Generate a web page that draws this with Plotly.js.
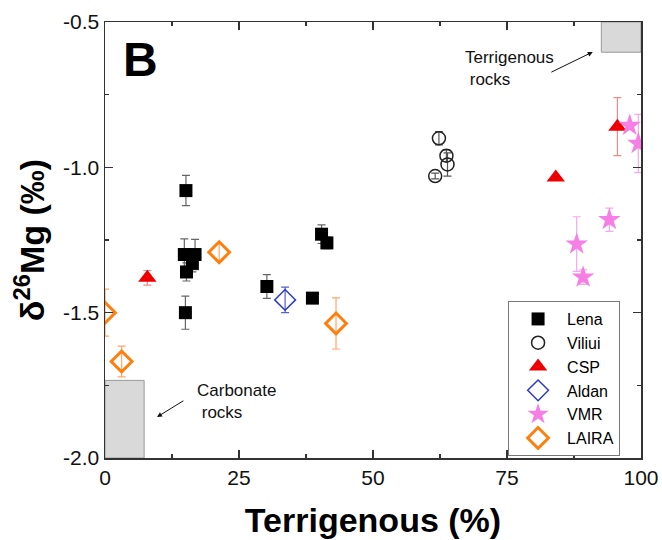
<!DOCTYPE html>
<html>
<head>
<meta charset="utf-8">
<script src="https://cdn.plot.ly/plotly-3.0.1.min.js"></script>
<style>
  html, body { margin: 0; padding: 0; background: #fff; }
  #chart { width: 662px; height: 540px; }
</style>
</head>
<body>
<div id="chart"></div>
<script>
// δ26Mg against terrigenous fraction, by river / sample group
const lenaX = [15.1, 14.8, 16.8, 16.3, 15.2, 15.0, 30.2, 38.7, 40.4, 41.4];
const lenaY = [-1.08, -1.30, -1.30, -1.33, -1.36, -1.50, -1.41, -1.45, -1.23, -1.26];
const lenaErr = [0.052, 0.054, 0.052, 0.03, 0.031, 0.057, 0.041, 0, 0.032, 0.02];

const viliuiX = [62.3, 63.7, 63.9, 61.6];
const viliuiY = [-0.90, -0.96, -0.99, -1.03];
const viliuiErr = [0.023, 0.02, 0.04, 0.01];

const cspX = [7.9, 84.1, 95.6];
const cspY = [-1.38, -1.035, -0.86];
const cspErr = [0.025, 0, 0.10];

const aldanX = [33.6];
const aldanY = [-1.456];
const aldanErr = [0.044];

const vmrX = [97.9, 99.5, 94.1, 88.0, 89.2];
const vmrY = [-0.856, -0.918, -1.18, -1.264, -1.378];
const vmrErr = [0, 0.10, 0.04, 0.094, 0.025];

const lairaX = [0, 3.1, 21.3, 43.1];
const lairaY = [-1.50, -1.668, -1.292, -1.537];
const lairaErr = [0.081, 0.053, 0.029, 0.088];

// axis tick labels (plain hyphen minus)
const xTickVals = [0, 25, 50, 75, 100];
const xTickText = ['0', '25', '50', '75', '100'];
const yTickVals = [-2.0, -1.5, -1.0, -0.5];
const yTickText = ['-2.0', '-1.5', '-1.0', '-0.5'];

// end-member fields
const carbonateBox = {x0: 0, x1: 7.3, y0: -2.0, y1: -1.733};
const terrigenousBox = {x0: 92.6, x1: 100, y0: -0.604, y1: -0.5};

const FONT = 'Arial, "Liberation Sans", sans-serif';

function series(name, xs, ys, errs, marker, errColor) {
  return {
    type: 'scatter', mode: 'markers', name: name,
    x: xs, y: ys,
    error_y: {type: 'data', array: errs, visible: true, color: errColor, thickness: 1.2, width: 4},
    marker: marker,
    cliponaxis: true
  };
}

const traces = [
  series('Lena', lenaX, lenaY, lenaErr,
    {symbol: 'square', size: 13, color: '#000000', line: {width: 0}}, '#666666'),
  series('Viliui', viliuiX, viliuiY, viliuiErr,
    {symbol: 'circle-open', size: 13, color: '#222222', line: {width: 1.5}}, '#555555'),
  series('CSP', cspX, cspY, cspErr,
    {symbol: 'triangle-up', size: 16, color: '#ee0000', line: {width: 0}}, '#f08a8a'),
  series('Aldan', aldanX, aldanY, aldanErr,
    {symbol: 'diamond-open', size: 16, color: '#2b3cc4', line: {width: 1.5}}, '#5060cc'),
  series('VMR', vmrX, vmrY, vmrErr,
    {symbol: 'star', size: 17, color: '#f77ee4', line: {width: 0}}, '#f7a6ec'),
  series('LAIRA', lairaX, lairaY, lairaErr,
    {symbol: 'diamond-open', size: 16, color: '#ff7f0e', line: {width: 3}}, '#ffa66a')
];

const axisCommon = {
  showgrid: false, zeroline: false,
  showline: true, linecolor: '#333333', linewidth: 1.5,
  mirror: 'ticks', ticks: 'inside', ticklen: 8, tickwidth: 1.5, tickcolor: '#333333',
  tickmode: 'array',
  tickfont: {family: FONT, size: 21, color: '#111111'}
};

const layout = {
  width: 662, height: 540,
  margin: {l: 105, r: 21, t: 22, b: 82},
  paper_bgcolor: '#ffffff', plot_bgcolor: '#ffffff',
  showlegend: true,
  xaxis: Object.assign({}, axisCommon, {
    range: [0, 100], tickvals: xTickVals, ticktext: xTickText,
    minor: {tickmode: 'linear', tick0: 0, dtick: 12.5, ticks: 'inside', ticklen: 4, tickwidth: 1.5, tickcolor: '#333333'},
    title: {text: 'Terrigenous (%)', font: {family: FONT, size: 34, weight: 'bold', color: '#000'}, standoff: 20}
  }),
  yaxis: Object.assign({}, axisCommon, {
    range: [-2.0, -0.5], tickvals: yTickVals, ticktext: yTickText,
    minor: {tickmode: 'linear', tick0: -2.0, dtick: 0.25, ticks: 'inside', ticklen: 4, tickwidth: 1.5, tickcolor: '#333333'},
    title: {text: 'δ<sup>26</sup>Mg (‰)', font: {family: FONT, size: 34, weight: 'bold', color: '#000'}, standoff: 8}
  }),
  legend: {
    x: 0.752, y: 0.36, xanchor: 'left', yanchor: 'top',
    bgcolor: '#ffffff', bordercolor: '#777777', borderwidth: 1,
    font: {family: FONT, size: 16, color: '#000'},
    itemwidth: 48, tracegroupgap: 0
  },
  shapes: [
    {type: 'rect', xref: 'x', yref: 'y', layer: 'below',
     x0: carbonateBox.x0, x1: carbonateBox.x1, y0: carbonateBox.y0, y1: carbonateBox.y1,
     fillcolor: '#d9d9d9', line: {color: '#999999', width: 1}},
    {type: 'rect', xref: 'x', yref: 'y', layer: 'below',
     x0: terrigenousBox.x0, x1: terrigenousBox.x1, y0: terrigenousBox.y0, y1: terrigenousBox.y1,
     fillcolor: '#d9d9d9', line: {color: '#999999', width: 1}}
  ],
  annotations: [
    {xref: 'paper', yref: 'paper', x: 0.067, y: 0.913, text: '<b>B</b>', showarrow: false,
     font: {family: FONT, size: 48, color: '#000'}, xanchor: 'center', yanchor: 'middle'},
    {xref: 'x', yref: 'y', x: 66.8, y: -0.660, text: 'Terrigenous<br> rocks', showarrow: false,
     align: 'left', xanchor: 'left', yanchor: 'middle',
     font: {family: FONT, size: 17, color: '#111'}},
    {xref: 'x', yref: 'y', axref: 'x', ayref: 'y', x: 91.0, y: -0.603, ax: 83.0, ay: -0.675,
     text: '', showarrow: true, arrowhead: 2, arrowsize: 1, arrowwidth: 1, arrowcolor: '#111'},
    {xref: 'x', yref: 'y', x: 16.8, y: -1.804, text: 'Carbonate<br> rocks', showarrow: false,
     align: 'left', xanchor: 'left', yanchor: 'middle',
     font: {family: FONT, size: 17, color: '#111'}},
    {xref: 'x', yref: 'y', axref: 'x', ayref: 'y', x: 9.7, y: -1.859, ax: 14.9, ay: -1.800,
     text: '', showarrow: true, arrowhead: 2, arrowsize: 1, arrowwidth: 1, arrowcolor: '#111'}
  ]
};

Plotly.newPlot('chart', traces, layout, {displayModeBar: false, staticPlot: true});
</script>
</body>
</html>
